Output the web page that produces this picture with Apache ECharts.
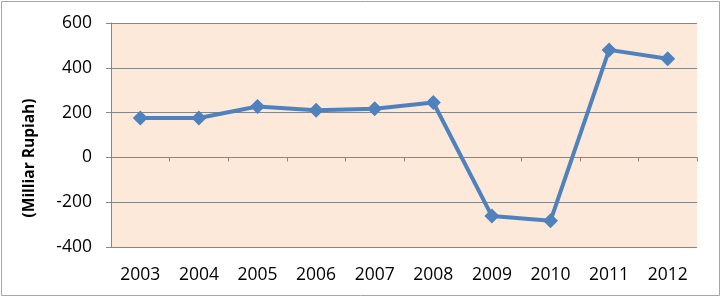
<!DOCTYPE html>
<html>
<head>
<meta charset="utf-8">
<script src="https://cdn.jsdelivr.net/npm/echarts@6/dist/echarts.min.js"></script>
<style>html,body{margin:0;padding:0;background:#fff}#c{width:725px;height:298px}</style>
</head>
<body>
<div id="c"></div>
<script>
const years = ['2003','2004','2005','2006','2007','2008','2009','2010','2011','2012'];
const values = [176, 176, 227, 210, 217, 245, -262, -283, 480, 440];
const yTicks = [-400, -200, 0, 200, 400, 600];
const yTitle = '(Milliar Rupiah)';

const chart = echarts.init(document.getElementById('c'), null, {renderer: 'canvas'});
const font = 'Open Sans, Lato, sans-serif';
chart.setOption({
  animation: false,
  graphic: [{
    type: 'rect', shape: {x: 1.5, y: 1.5, width: 718, height: 294},
    style: {fill: 'none', stroke: '#a6a6a6', lineWidth: 1}, silent: true, z: -10
  }, {
    type: 'text', x: 30, y: 158, rotation: Math.PI / 2,
    style: {text: yTitle, fill: '#000', font: 'bold 15.5px Open Sans, sans-serif',
            align: 'center', verticalAlign: 'middle'},
    silent: true
  }],
  grid: {left: 111, right: 28, top: 23, bottom: 51, show: true, backgroundColor: '#fde9d9', borderWidth: 0},
  xAxis: [{
    type: 'category', data: years, boundaryGap: true, position: 'bottom',
    axisLine: {show: false, onZero: false}, axisTick: {show: false},
    axisLabel: {color: '#000', fontFamily: font, fontSize: 17.5, margin: 19}
  }, {
    type: 'category', data: years, boundaryGap: true, position: 'bottom',
    axisLine: {show: true, onZero: true, lineStyle: {color: '#868686', width: 1}},
    axisTick: {show: true, length: 4, inside: false, lineStyle: {color: '#868686'}},
    axisLabel: {show: false}
  }],
  yAxis: {
    type: 'value', min: yTicks[0], max: yTicks[yTicks.length - 1], interval: 200,
    axisLine: {show: true, lineStyle: {color: '#868686'}},
    axisTick: {show: true, length: 5, lineStyle: {color: '#868686'}},
    axisLabel: {color: '#000', fontFamily: font, fontSize: 17.5, margin: 19},
    splitLine: {show: true, lineStyle: {color: '#868686', width: 1}}
  },
  series: [{
    type: 'line', data: values, xAxisIndex: 0,
    symbol: 'diamond', symbolSize: 15,
    lineStyle: {color: '#4f81bd', width: 4},
    itemStyle: {color: '#4f81bd'}
  }]
});
</script>
</body>
</html>
